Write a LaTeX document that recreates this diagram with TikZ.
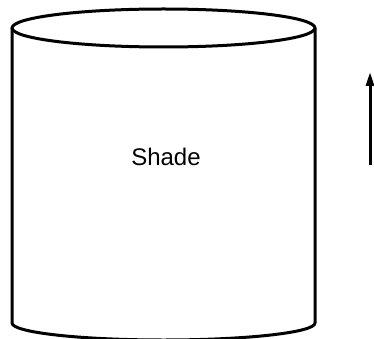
\documentclass[tikz,border=0pt]{standalone}
\usepackage{fontspec}
\setmainfont{Liberation Sans}
\usetikzlibrary{arrows.meta}

\begin{document}
\begin{tikzpicture}[
  x=1pt, y=-1pt,
  font=\fontsize{24}{28}\selectfont,
  wall/.style={draw=black, line width=3pt, line join=round},
  arrow/.style={-{Triangle[length=14pt,width=8pt]}, line width=3pt, draw=black}
]
\useasboundingbox (0,0) rectangle (374,339);
% cylinder body and lids
\draw[wall] (12,28) -- (12,323) arc[start angle=180, end angle=0, x radius=151.5, y radius=17] -- (315,28);
\draw[wall] (163.5,28) ellipse[x radius=151.5, y radius=19];
\node (label) at (166,157) {Shade};
% direction arrow
\coordinate (tail) at (370,165);
\coordinate (tip) at (370,72);
\draw[arrow] (tail) -- (tip);
\end{tikzpicture}
\end{document}
